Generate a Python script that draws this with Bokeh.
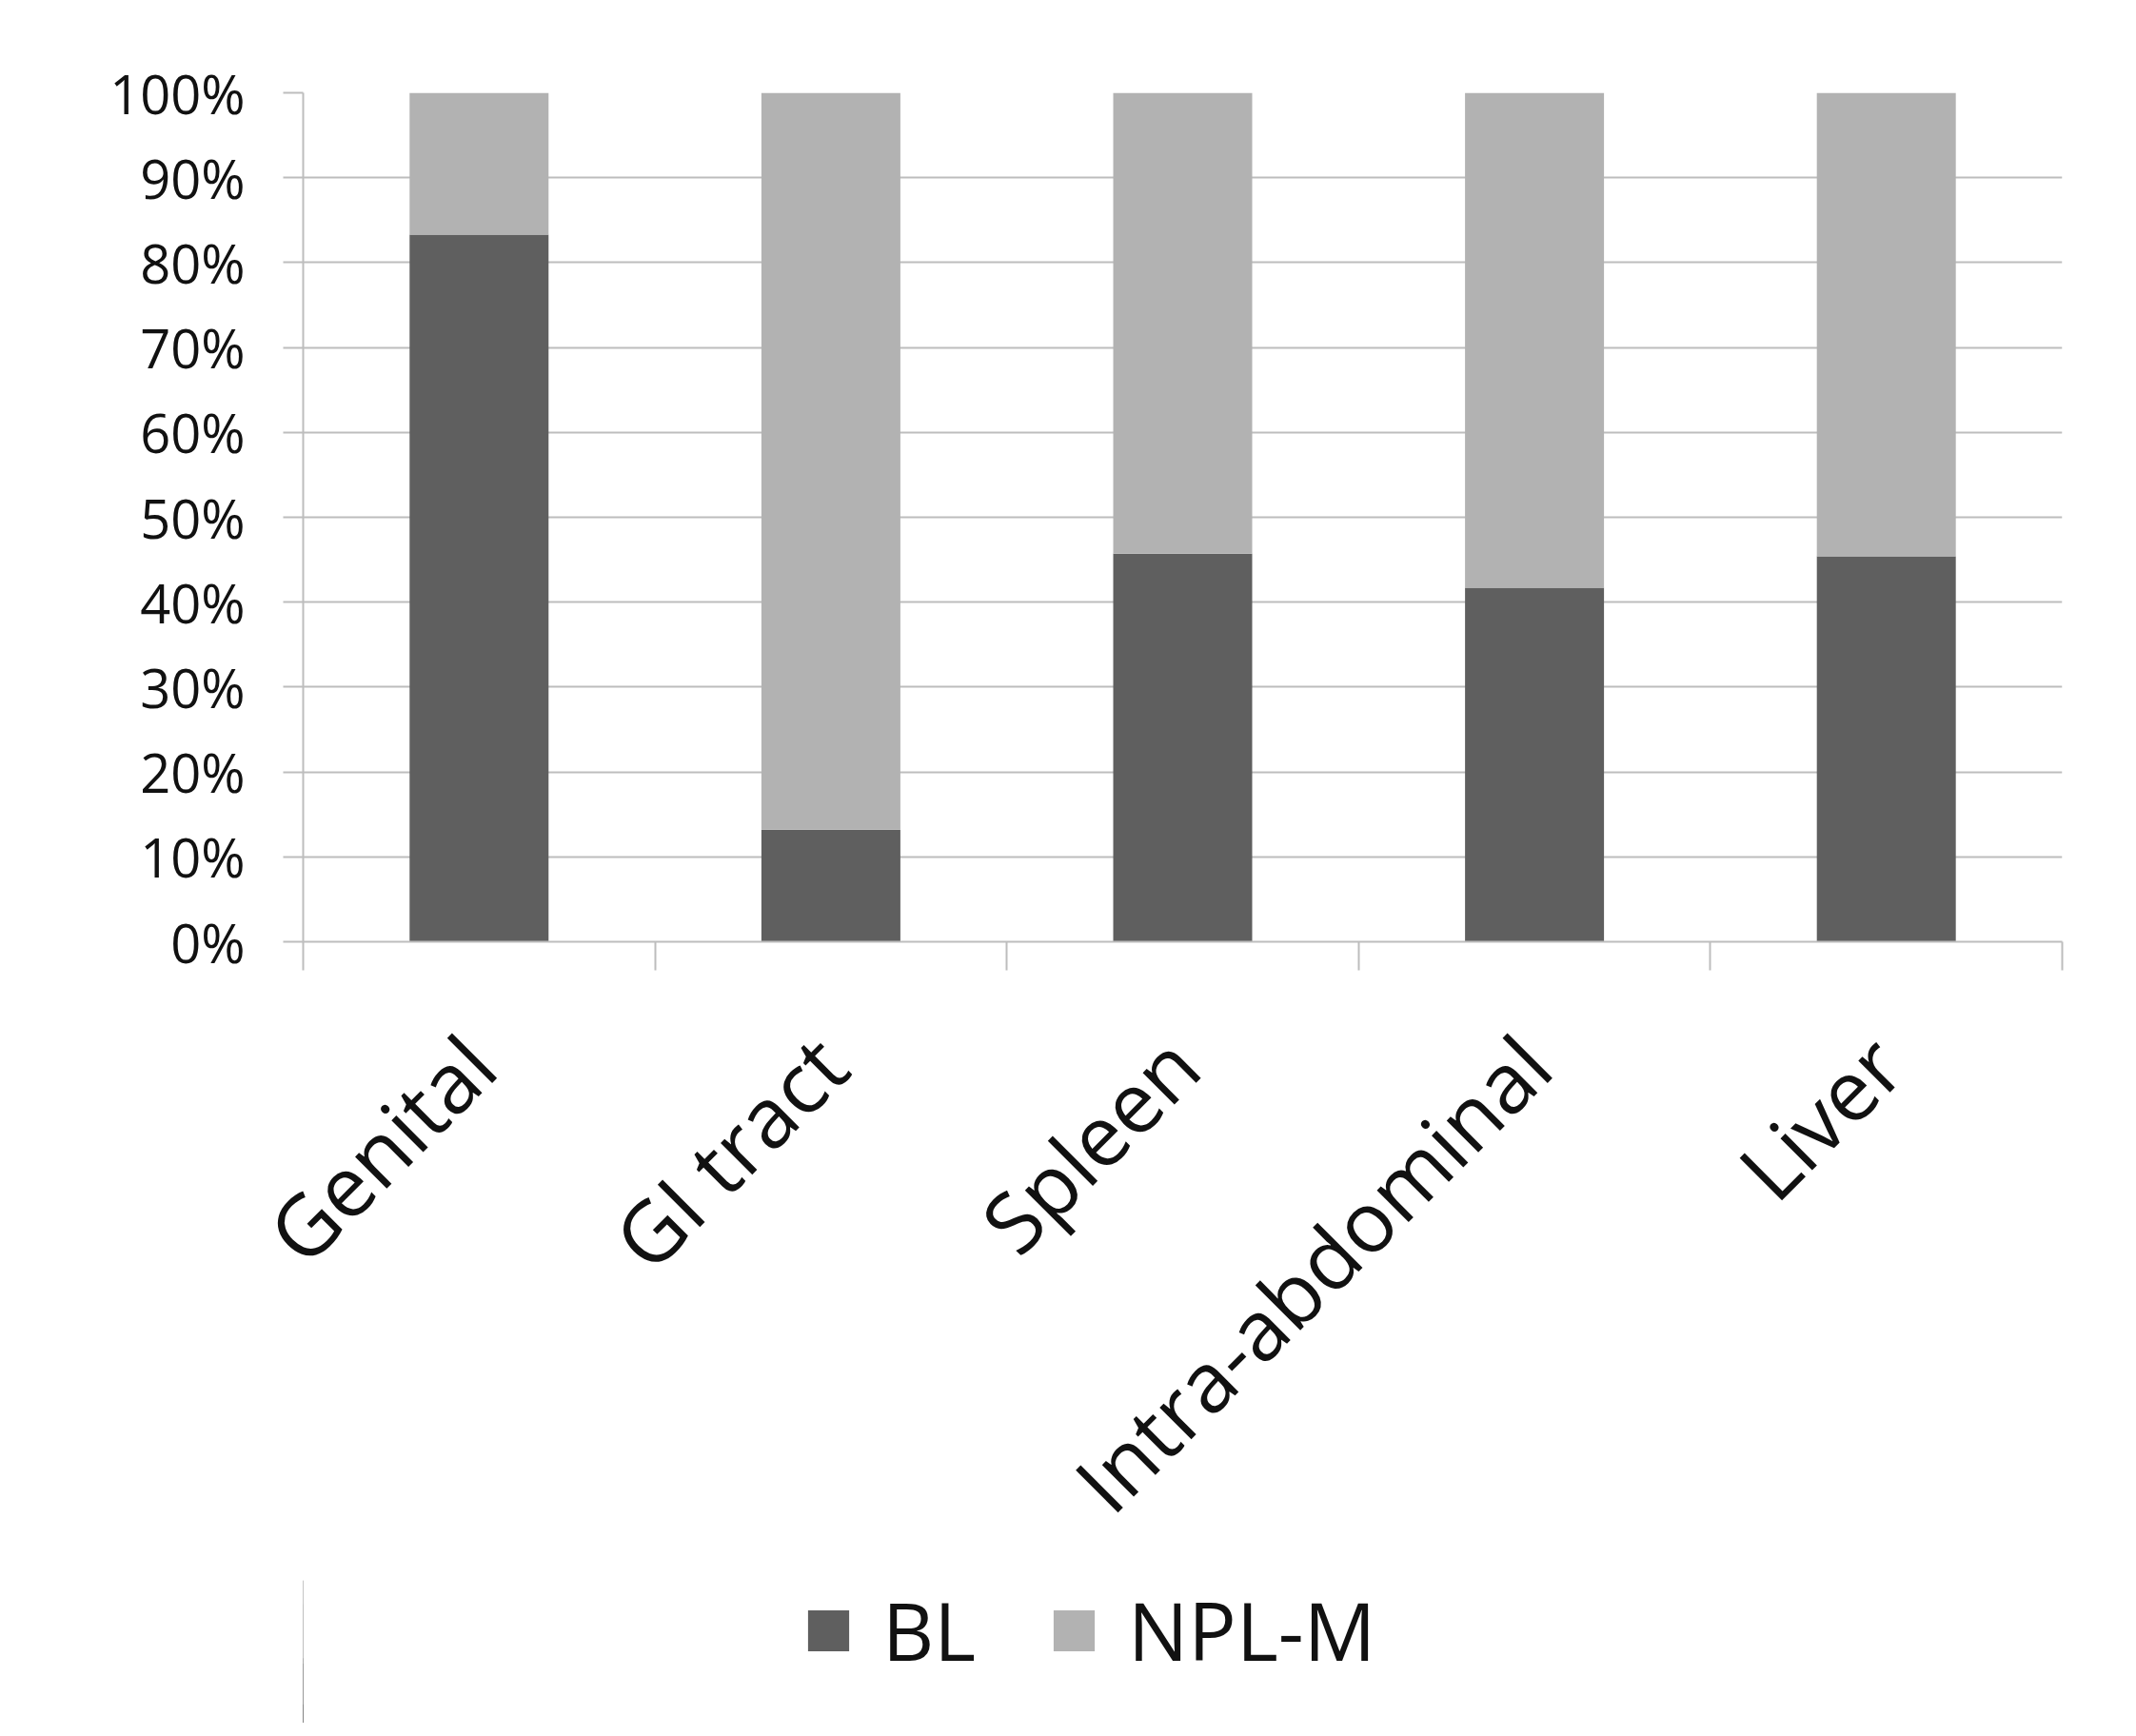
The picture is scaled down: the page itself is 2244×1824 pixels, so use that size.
from math import pi
from bokeh.plotting import figure
from bokeh.layouts import column
from bokeh.models import (Range1d, LinearAxis, FixedTicker, NumeralTickFormatter,
                          Legend, LegendItem, ColumnDataSource)
from bokeh.embed import file_html
from bokeh.resources import INLINE

categories = ["Genital", "GI tract", "Spleen", "Intra-abdominal", "Liver"]
bl = [0.833, 0.132, 0.457, 0.417, 0.454]
npl_m = [1 - v for v in bl]
series = ["BL", "NPL-M"]
colors = ["#5f5f5f", "#b2b2b2"]
y_ticks = [i / 10 for i in range(11)]

n = len(categories)
centers = [i + 0.5 for i in range(n)]
bounds = list(range(n + 1))
src = ColumnDataSource(dict(x=centers, BL=bl, **{"NPL-M": npl_m}))

W, H1, H2 = 2228, 1660, 150
p = figure(x_range=Range1d(0, n), y_range=Range1d(0, 1),
           width=W, height=H1, output_backend="svg", toolbar_location=None,
           min_border_left=318, min_border_right=62, min_border_top=97, min_border_bottom=H1 - 989,
           outline_line_color=None, background_fill_color="white", x_axis_location=None)

p.vbar_stack(series, x="x", width=0.395, source=src, color=colors, line_color=None)

grid_col = "#bdbdbd"
font = "Open Sans"

# y axis
ya = p.yaxis[0]
ya.ticker = FixedTicker(ticks=y_ticks)
ya.formatter = NumeralTickFormatter(format="0%")
ya.axis_line_color = grid_col
ya.axis_line_width = 2
ya.major_tick_line_color = grid_col
ya.major_tick_line_width = 2
ya.major_tick_out = 21
ya.major_tick_in = 0
ya.minor_tick_line_color = None
ya.major_label_text_font = font
ya.major_label_text_font_size = "56px"
ya.major_label_text_color = "#111111"
ya.major_label_standoff = 40

p.ygrid.ticker = FixedTicker(ticks=y_ticks)
p.ygrid.grid_line_color = grid_col
p.ygrid.grid_line_width = 2
p.xgrid.grid_line_color = None

# x axis: labels at category centres, tick marks (minor) at category boundaries
xa = LinearAxis(ticker=FixedTicker(ticks=centers, minor_ticks=bounds),
                major_label_overrides={c: name for c, name in zip(centers, categories)},
                axis_line_color=grid_col, axis_line_width=2,
                major_tick_line_color=None, major_tick_out=30, major_tick_in=0,
                minor_tick_line_color=grid_col, minor_tick_line_width=2,
                minor_tick_out=30, minor_tick_in=0,
                major_label_orientation=pi / 4, major_label_text_font=font,
                major_label_text_font_size="88px", major_label_text_color="#111111",
                major_label_standoff=84)
p.add_layout(xa, "below")

# legend in its own strip below the chart (its bars sit outside the strip's view)
lf = figure(x_range=Range1d(100, 101), y_range=Range1d(0, 1), width=W, height=H2,
            output_backend="svg", toolbar_location=None, min_border=0,
            x_axis_location=None, y_axis_location=None, outline_line_color=None)
lf.grid.grid_line_color = None
lrs = lf.vbar_stack(series, x="x", width=0.395, source=src, color=colors, line_color=None)
legend = Legend(items=[LegendItem(label=s, renderers=[r]) for s, r in zip(series, lrs)],
                orientation="horizontal", location=(525, 40),
                glyph_width=54, glyph_height=54, label_standoff=30, spacing=76,
                label_text_font=font, label_text_font_size="84px", label_text_color="#111111",
                border_line_color=None, background_fill_alpha=0, padding=0, margin=0)
lf.add_layout(legend, "center")

open("out.html", "w").write(file_html(column(p, lf, spacing=0), INLINE))
